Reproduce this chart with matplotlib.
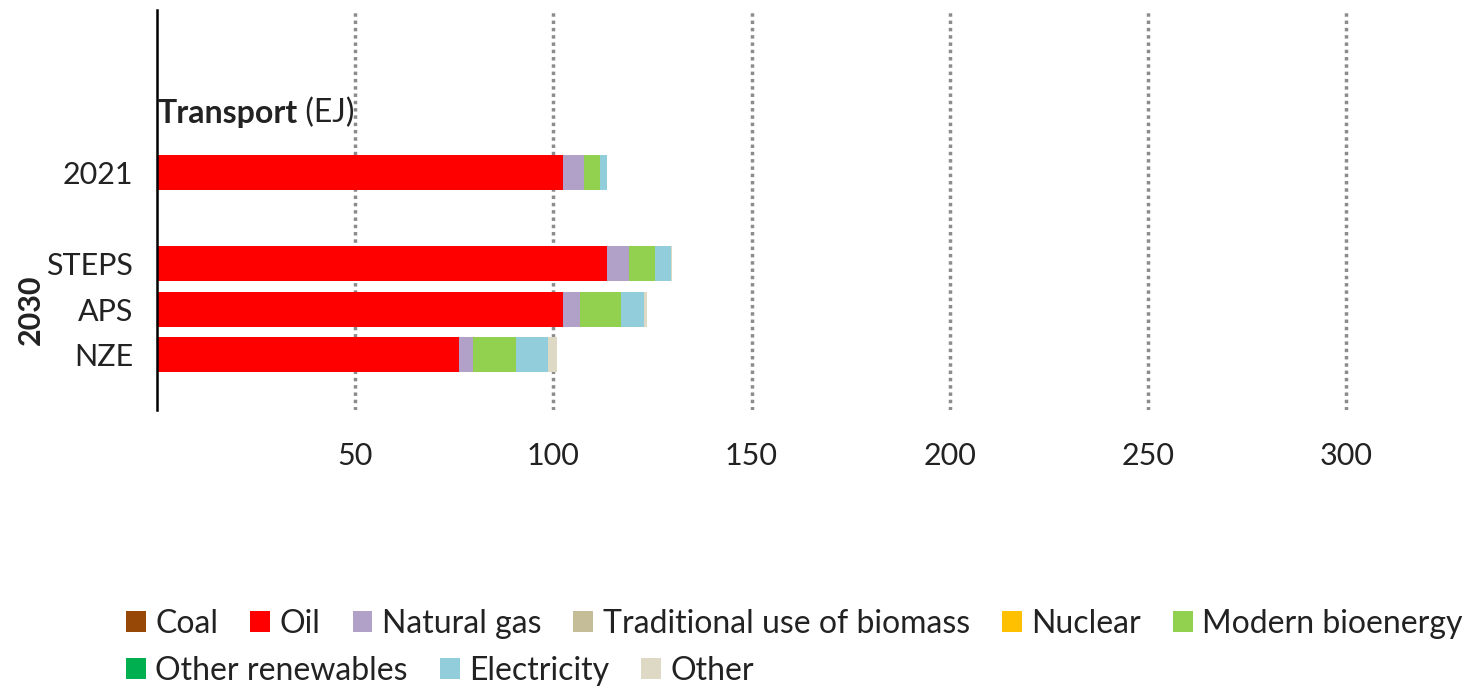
import numpy as np
import matplotlib.pyplot as plt
from matplotlib.patches import Patch

plt.rcParams['font.family'] = ['Lato', 'DejaVu Sans']

# data (EJ)
cases = ['2021', 'STEPS', 'APS', 'NZE']
fuels = ['Coal', 'Oil', 'Natural gas', 'Traditional use of biomass', 'Nuclear',
         'Modern bioenergy', 'Other renewables', 'Electricity', 'Other']
colors = ['#974706', '#FF0000', '#B1A0C7', '#C4BD97', '#FFC000',
          '#92D050', '#00B050', '#92CDDC', '#DDD9C4']

coal = [0, 0, 0, 0]
oil = [102.5, 113.5, 102.4, 76.2]
gas = [5.2, 5.6, 4.4, 3.6]
trad_bio = [0, 0, 0, 0]
nuclear = [0, 0, 0, 0]
modern_bio = [4.1, 6.5, 10.3, 10.9]
other_ren = [0, 0, 0, 0]
electricity = [1.7, 4.2, 5.8, 8.0]
other = [0, 0.2, 0.7, 2.3]
series = [coal, oil, gas, trad_bio, nuclear, modern_bio, other_ren, electricity, other]

ypos = [0, 2, 3, 4]
xticks = [50, 100, 150, 200, 250, 300]

fig = plt.figure(figsize=(14.77, 6.89), dpi=100)
ax = fig.add_axes([0.1063, 0.405, 0.8587, 0.5805])

left = np.zeros(len(cases))
for vals, col, name in zip(series, colors, fuels):
    ax.barh(ypos, vals, left=left, height=0.77, color=col, label=name, zorder=3)
    left += np.array(vals)

ax.set_xlim(0, 320)
ax.set_ylim(5.21, -3.58)
ax.set_xticks(xticks)
ax.set_xticklabels([str(t) for t in xticks])
ax.set_yticks(ypos)
ax.set_yticklabels(cases)
ax.tick_params(axis='x', length=0, pad=23, labelsize=22, colors='#222222')
ax.tick_params(axis='y', length=0, pad=17, labelsize=22, colors='#222222')
for t in xticks:
    ax.axvline(t, color='#8c8c8c', lw=2.5, ls=(0, (1, 1.1)), zorder=1)
for s in ['top', 'right', 'bottom']:
    ax.spines[s].set_visible(False)
ax.spines['left'].set_linewidth(1.8)
ax.spines['left'].set_zorder(5)

t1 = ax.text(0, -1.3, 'Transport', fontsize=23, fontweight='bold', color='#222222',
             ha='left', va='center', transform=ax.get_yaxis_transform())
ax.annotate(' (EJ)', xy=(1, 0), xycoords=t1, fontsize=23, color='#222222',
            ha='left', va='bottom')

fig.text(0.021, (689 - 310) / 689, '2030', rotation=90, fontsize=22, fontweight='bold',
         color='#222222', ha='center', va='center')

handles = [Patch(facecolor=c, edgecolor='none') for c in colors]
leg_kw = dict(frameon=False, fontsize=23, handlelength=0.62, handleheight=0.62,
              handletextpad=0.3, columnspacing=1.0, borderpad=0, borderaxespad=0,
              labelcolor='#222222')
leg1 = fig.legend(handles[:6], fuels[:6], ncol=6, loc='center left',
                  bbox_to_anchor=(0.0853, 0.0943), **leg_kw)
leg2 = fig.legend(handles[6:], fuels[6:], ncol=3, loc='center left',
                  bbox_to_anchor=(0.0853, 0.026), **leg_kw)

fig.savefig('out.png', dpi=100)
